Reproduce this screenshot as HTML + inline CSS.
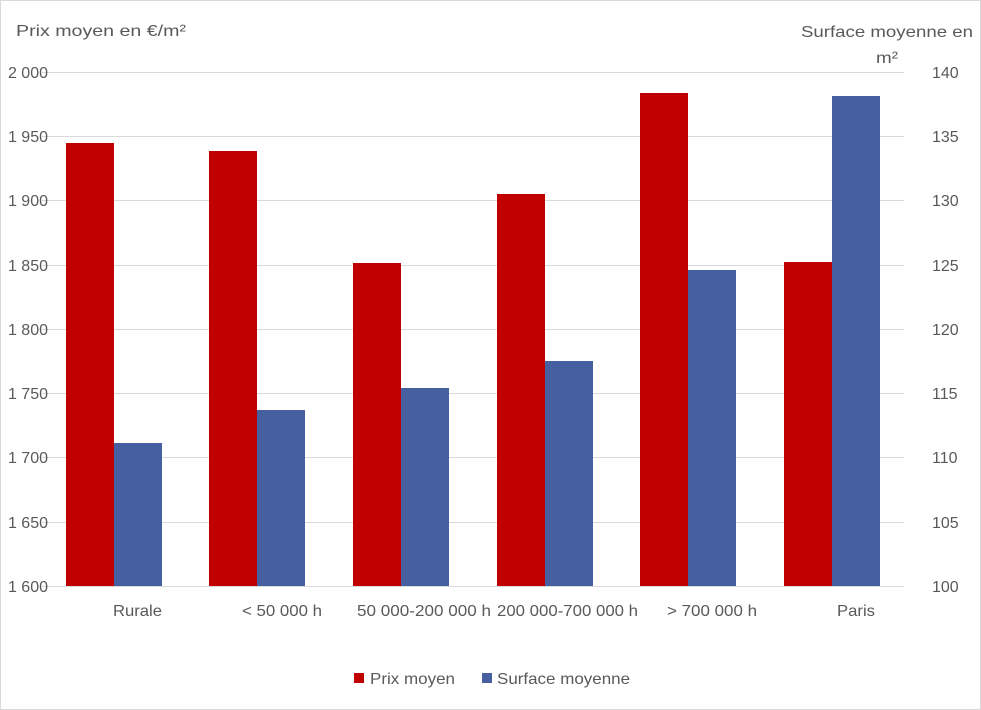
<!DOCTYPE html>
<html><head><meta charset="utf-8"><style>
html,body{margin:0;padding:0;background:#fff}
svg{display:block}
text{font-family:"Liberation Sans",Arial,sans-serif;fill:#595959;font-size:16px}
</style></head><body>
<svg width="981" height="710" viewBox="0 0 981 710">
<rect x="0.5" y="0.5" width="980" height="709" fill="#fff" stroke="#d9d9d9"/>
<g stroke="#d9d9d9" stroke-width="1">
<line x1="42" x2="904" y1="72.5" y2="72.5"/>
<line x1="42" x2="904" y1="136.5" y2="136.5"/>
<line x1="42" x2="904" y1="200.5" y2="200.5"/>
<line x1="42" x2="904" y1="265.5" y2="265.5"/>
<line x1="42" x2="904" y1="329.5" y2="329.5"/>
<line x1="42" x2="904" y1="393.5" y2="393.5"/>
<line x1="42" x2="904" y1="457.5" y2="457.5"/>
<line x1="42" x2="904" y1="522.5" y2="522.5"/>
<line x1="42" x2="904" y1="586.5" y2="586.5"/>
</g>
<g fill="#c00000">
<rect x="66" y="143" width="48" height="443"/>
<rect x="209" y="151" width="48" height="435"/>
<rect x="353" y="263" width="48" height="323"/>
<rect x="497" y="194" width="48" height="392"/>
<rect x="640" y="93" width="48" height="493"/>
<rect x="784" y="262" width="48" height="324"/>
</g>
<g fill="#465fa0">
<rect x="114" y="443" width="48" height="143"/>
<rect x="257" y="410" width="48" height="176"/>
<rect x="401" y="388" width="48" height="198"/>
<rect x="545" y="361" width="48" height="225"/>
<rect x="688" y="270" width="48" height="316"/>
<rect x="832" y="96" width="48" height="490"/>
</g>
<g text-anchor="end">
<text x="48" y="78">2 000</text>
<text x="48" y="142">1 950</text>
<text x="48" y="206">1 900</text>
<text x="48" y="271">1 850</text>
<text x="48" y="335">1 800</text>
<text x="48" y="399">1 750</text>
<text x="48" y="463">1 700</text>
<text x="48" y="528">1 650</text>
<text x="48" y="592">1 600</text>
</g>
<g>
<text x="932" y="78">140</text>
<text x="932" y="142">135</text>
<text x="932" y="206">130</text>
<text x="932" y="271">125</text>
<text x="932" y="335">120</text>
<text x="932" y="399">115</text>
<text x="932" y="463">110</text>
<text x="932" y="528">105</text>
<text x="932" y="592">100</text>
</g>
<g>
<text x="113" y="616" textLength="49" lengthAdjust="spacingAndGlyphs">Rurale</text>
<text x="242" y="616" textLength="80" lengthAdjust="spacingAndGlyphs">&lt; 50 000 h</text>
<text x="357" y="616" textLength="134" lengthAdjust="spacingAndGlyphs">50 000-200 000 h</text>
<text x="497" y="616" textLength="141" lengthAdjust="spacingAndGlyphs">200 000-700 000 h</text>
<text x="667" y="616" textLength="90" lengthAdjust="spacingAndGlyphs">&gt; 700 000 h</text>
<text x="837" y="616" textLength="38" lengthAdjust="spacingAndGlyphs">Paris</text>
</g>
<text x="16" y="36" font-size="17" textLength="170" lengthAdjust="spacingAndGlyphs">Prix moyen en €/m²</text>
<text x="801" y="37" font-size="17" textLength="172" lengthAdjust="spacingAndGlyphs">Surface moyenne en</text>
<text x="876" y="63" font-size="17" textLength="22" lengthAdjust="spacingAndGlyphs">m²</text>
<rect x="354" y="673" width="10" height="10" fill="#c00000"/>
<text x="370" y="684" textLength="85" lengthAdjust="spacingAndGlyphs">Prix moyen</text>
<rect x="482" y="673" width="10" height="10" fill="#465fa0"/>
<text x="497" y="684" textLength="133" lengthAdjust="spacingAndGlyphs">Surface moyenne</text>
</svg>
</body></html>
